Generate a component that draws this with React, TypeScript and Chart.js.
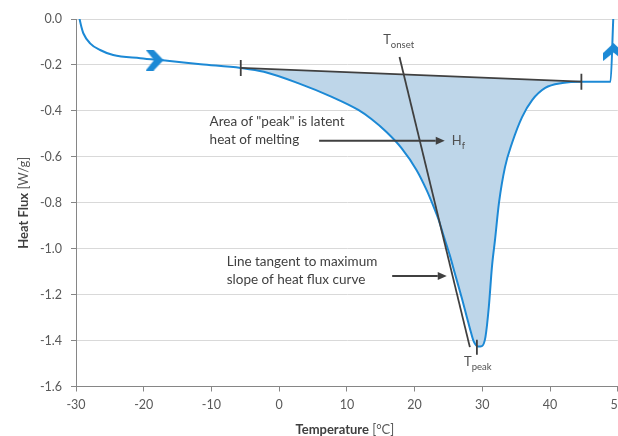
import { useEffect, useRef } from 'react';
import { Chart, registerables } from 'chart.js';

Chart.register(...registerables);

const FONT = 'Lato, "Open Sans", sans-serif';
const INK = '#404040';
const MUTED = '#595959';
const BLUE = '#1c89d5';
const FILL = 'rgb(190, 214, 233)';

// Heat-flow trace of the heating run: temperature (°C)
const traceTemp = [
  -29.62, -29.2, -28.92, -27.92, -26.44, -24.51, -20.5, -16.5, -11.6, -5.67,
  -2.26, 2.79, 7.69, 11.69, 13.62, 15.85, 18.07, 20.3, 21.78, 22.82,
  23.56, 24.3, 25.19, 25.93, 26.97, 27.72, 28.31, 28.75, 29.35, 29.94,
  30.46, 30.96, 31.42, 31.87, 32.46, 33.35, 34.39, 35.87, 37.36, 39.29,
  41.81, 44.63, 48.93, 49.33, 49.45,
];
// Heat flux (W/g) at each temperature above
const traceFlux = [
  0.02, -0.035, -0.062, -0.106, -0.135, -0.157, -0.171, -0.182, -0.197, -0.213,
  -0.2295, -0.279, -0.338, -0.396, -0.4355, -0.492, -0.562, -0.658, -0.745, -0.818,
  -0.875, -0.945, -1.028, -1.106, -1.215, -1.298, -1.363, -1.405, -1.426, -1.424,
  -1.385, -1.254, -1.08, -0.963, -0.801, -0.645, -0.54, -0.427, -0.353, -0.3,
  -0.279, -0.273, -0.273, -0.004, 0.08,
];

// Extrapolated baseline under the melting peak
const baseTemp = [-5.67, 44.63];
const baseFlux = [-0.213, -0.273];

// Tangent through the steepest part of the leading edge
const tangentTemp = [17.77, 28.16];
const tangentFlux = [-0.1655, -1.4286];

// Peak temperature marker
const peakTemp = [29.2];
const peakFlux = [-1.4286];

// Scan-direction chevrons: position and heading in degrees
const dirTemp = [-18.4, 49.38];
const dirFlux = [-0.179, -0.144];
const dirAngle = [0, -90];

const xTicks = [-30, -20, -10, 0, 10, 20, 30, 40, 50];
const yTicks = [0, -0.2, -0.4, -0.6, -0.8, -1.0, -1.2, -1.4, -1.6];

// Callout texts, anchored in data units (left edge, centre of first line)
const notes = [
  { lines: ['Area of "peak" is latent', 'heat of melting'], x: -10.27, y: -0.447 },
  { lines: ['Line tangent to maximum', 'slope of heat flux curve'], x: -7.74, y: -1.057 },
];
const pointers = [
  { from: [5.9, -0.53], to: [24.45, -0.53] },
  { from: [16.69, -1.119], to: [24.75, -1.119] },
];
// Symbol labels with subscripts (left edge, baseline)
const symbols = [
  { main: 'T', sub: 'onset', x: 15.36, y: -0.11 },
  { main: 'H', sub: 'f', x: 25.49, y: -0.549 },
  { main: 'T', sub: 'peak', x: 27.3, y: -1.512 },
];

const toXY = (xs: number[], ys: number[]) => xs.map((x, i) => ({ x, y: ys[i] }));

function makeChevron(color: string) {
  const c = document.createElement('canvas');
  c.width = 18;
  c.height = 21;
  const g = c.getContext('2d')!;
  g.fillStyle = color;
  g.beginPath();
  g.moveTo(0, 0);
  g.lineTo(8, 0);
  g.lineTo(18, 10.5);
  g.lineTo(8, 21);
  g.lineTo(0, 21);
  g.lineTo(8.5, 10.5);
  g.closePath();
  g.fill();
  return c;
}

const annotationPlugin = {
  id: 'annotations',
  afterDatasetsDraw(chart: any) {
    const { ctx } = chart;
    const sx = chart.scales.x;
    const sy = chart.scales.y;
    ctx.save();
    ctx.fillStyle = INK;
    ctx.strokeStyle = INK;

    ctx.font = `13.5px ${FONT}`;
    ctx.textAlign = 'left';
    ctx.textBaseline = 'middle';
    for (const n of notes) {
      const px = sx.getPixelForValue(n.x);
      const py = sy.getPixelForValue(n.y);
      n.lines.forEach((t, i) => ctx.fillText(t, px, py + i * 18));
    }

    ctx.lineWidth = 1.8;
    for (const p of pointers) {
      const x0 = sx.getPixelForValue(p.from[0]);
      const y0 = sy.getPixelForValue(p.from[1]);
      const x1 = sx.getPixelForValue(p.to[0]);
      const y1 = sy.getPixelForValue(p.to[1]);
      const a = Math.atan2(y1 - y0, x1 - x0);
      const head = 9;
      ctx.beginPath();
      ctx.moveTo(x0, y0);
      ctx.lineTo(x1 - Math.cos(a) * head, y1 - Math.sin(a) * head);
      ctx.stroke();
      ctx.beginPath();
      ctx.moveTo(x1, y1);
      ctx.lineTo(x1 - Math.cos(a) * head - Math.sin(a) * 4, y1 - Math.sin(a) * head + Math.cos(a) * 4);
      ctx.lineTo(x1 - Math.cos(a) * head + Math.sin(a) * 4, y1 - Math.sin(a) * head - Math.cos(a) * 4);
      ctx.closePath();
      ctx.fill();
    }

    ctx.textBaseline = 'alphabetic';
    ctx.fillStyle = '#505050';
    for (const s of symbols) {
      const px = sx.getPixelForValue(s.x);
      const py = sy.getPixelForValue(s.y);
      ctx.font = `13px ${FONT}`;
      ctx.fillText(s.main, px, py);
      const w = ctx.measureText(s.main).width;
      ctx.font = `9.5px ${FONT}`;
      ctx.fillText(s.sub, px + w, py + 3.5);
    }
    ctx.restore();
  },
  afterDraw(chart: any) {
    const { ctx, chartArea } = chart;
    ctx.save();
    ctx.textBaseline = 'middle';
    ctx.textAlign = 'left';
    const drawTitle = (bold: string, rest: string, cx: number, cy: number, angle: number) => {
      ctx.save();
      ctx.translate(cx, cy);
      ctx.rotate(angle);
      ctx.font = `bold 13px ${FONT}`;
      const wb = ctx.measureText(bold).width;
      ctx.font = `13px ${FONT}`;
      const wr = ctx.measureText(rest).width;
      const start = -(wb + wr) / 2;
      ctx.font = `bold 13px ${FONT}`;
      ctx.fillStyle = INK;
      ctx.fillText(bold, start, 0);
      ctx.font = `13px ${FONT}`;
      ctx.fillStyle = MUTED;
      ctx.fillText(rest, start + wb, 0);
      ctx.restore();
    };
    drawTitle('Temperature', ' [°C]', (chartArea.left + chartArea.right) / 2 - 2, 430, 0);
    drawTitle('Heat Flux', ' [W/g]', 24, (chartArea.top + chartArea.bottom) / 2, -Math.PI / 2);
    ctx.restore();
  },
};

export default function App() {
  const ref = useRef<HTMLCanvasElement>(null);

  useEffect(() => {
    if (!ref.current) return;
    Chart.defaults.font.family = FONT;
    Chart.defaults.color = MUTED;

    const trace = toXY(traceTemp, traceFlux);
    const area = trace.filter((p) => p.x >= baseTemp[0] && p.x <= baseTemp[1]);
    const chevron = makeChevron(BLUE);

    const chart = new Chart(ref.current, {
      type: 'line',
      data: {
        datasets: [
          {
            label: 'peak',
            data: toXY(peakTemp, peakFlux),
            showLine: false,
            pointStyle: 'line',
            pointRotation: 90,
            pointRadius: 7.5,
            pointBorderWidth: 1.8,
            pointBorderColor: INK,
            borderColor: INK,
          },
          {
            label: 'direction',
            data: toXY(dirTemp, dirFlux),
            showLine: false,
            pointStyle: chevron,
            pointRotation: (c: any) => dirAngle[c.dataIndex] ?? 0,
            pointRadius: 10,
            clip: false,
          },
          {
            label: 'tangent',
            data: toXY(tangentTemp, tangentFlux),
            borderColor: INK,
            borderWidth: 1.8,
            pointRadius: 0,
          },
          {
            label: 'baseline',
            data: toXY(baseTemp, baseFlux),
            borderColor: INK,
            borderWidth: 1.8,
            pointStyle: 'line',
            pointRotation: 90,
            pointRadius: 8,
            pointBorderColor: INK,
            pointBorderWidth: 1.8,
          },
          {
            label: 'trace',
            data: trace,
            borderColor: BLUE,
            borderWidth: 2,
            pointRadius: 0,
            cubicInterpolationMode: 'monotone',
          },
          {
            label: 'area',
            data: area,
            borderWidth: 0,
            borderColor: 'rgba(0,0,0,0)',
            backgroundColor: FILL,
            pointRadius: 0,
            fill: 3,
            cubicInterpolationMode: 'monotone',
          },
        ] as any,
      },
      options: {
        animation: false,
        responsive: false,
        events: [],
        layout: { padding: { left: 0, right: 9, top: 19, bottom: 0 } },
        plugins: { legend: { display: false }, tooltip: { enabled: false } },
        scales: {
          x: {
            type: 'linear',
            min: -30,
            max: 50,
            afterBuildTicks: (s: any) => {
              s.ticks = xTicks.map((v) => ({ value: v }));
            },
            afterFit: (s: any) => {
              s.height = 49.5;
            },
            ticks: {
              font: { size: 12.5 },
              color: MUTED,
              padding: 6,
              maxRotation: 0,
              autoSkip: false,
              callback: (v: any) => String(v),
            },
            grid: {
              drawOnChartArea: false,
              drawTicks: true,
              tickLength: 5,
              tickColor: '#868686',
            },
            border: { display: true, color: '#868686', width: 1 },
          },
          y: {
            type: 'linear',
            min: -1.6,
            max: 0,
            afterBuildTicks: (s: any) => {
              s.ticks = yTicks.map((v) => ({ value: v }));
            },
            afterFit: (s: any) => {
              s.width = 76;
            },
            ticks: {
              font: { size: 12.5 },
              color: MUTED,
              padding: 9,
              autoSkip: false,
              callback: (v: any) => (Math.abs(Number(v)) < 1e-9 ? '0.0' : Number(v).toFixed(1)),
            },
            grid: {
              color: '#d9d9d9',
              lineWidth: 1,
              drawTicks: true,
              tickLength: 5,
              tickColor: '#868686',
            },
            border: { display: true, color: '#868686', width: 1 },
          },
        },
      } as any,
      plugins: [annotationPlugin],
    });
    return () => chart.destroy();
  }, []);

  return (
    <div
      style={{
        position: 'fixed',
        left: 0,
        top: 0,
        width: 618,
        height: 436,
        overflow: 'hidden',
        background: '#fff',
      }}
    >
      <canvas ref={ref} width={631} height={436} style={{ display: 'block' }} />
    </div>
  );
}
